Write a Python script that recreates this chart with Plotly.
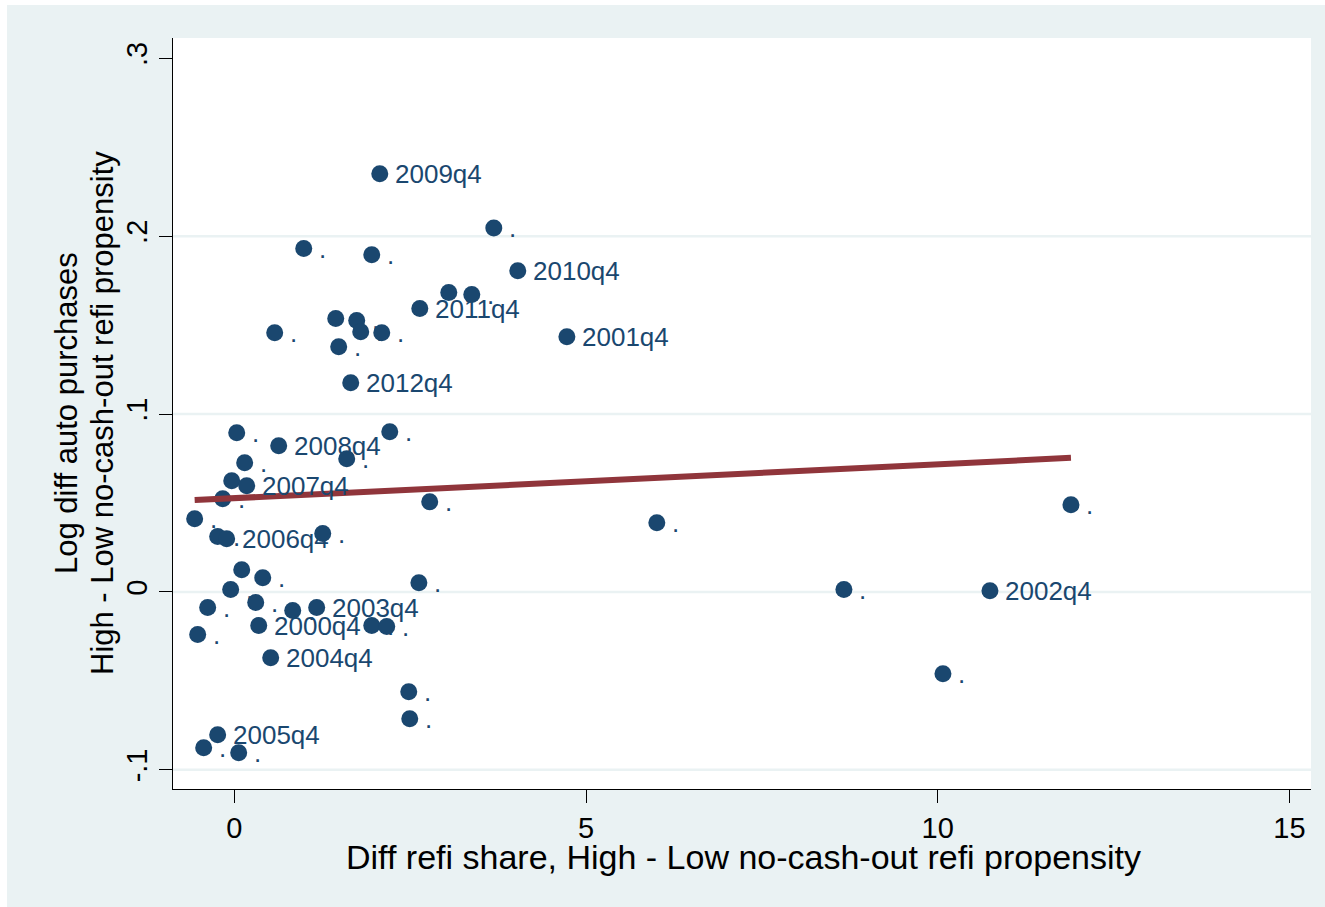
import numpy as np
import plotly.graph_objects as go

# Diff refi share (x) vs log diff auto purchases (y), High - Low propensity groups
refi_diff = [
    2.067, 3.688, 0.986, 1.953, 4.029, 3.048, 3.375, 2.636, 1.441, 1.739,
    0.573, 1.796, 2.095, 4.727, 1.483, 1.654, 0.033, 0.630, 2.209, 1.597,
    0.146, -0.038, 0.175, -0.166, 2.777, -0.565, 6.006, 11.894, -0.238, -0.110,
    1.256, 0.104, 0.403, 2.623, -0.053, 8.666, 10.742, -0.380, 0.303, 0.829,
    1.170, 0.346, 1.953, 2.166, -0.522, 0.516, 2.479, 10.074, 2.493, -0.238,
    -0.437, 0.061,
]
auto_diff = [
    0.2351, 0.2046, 0.1930, 0.1896, 0.1806, 0.1683, 0.1672, 0.1593, 0.1537, 0.1526,
    0.1457, 0.1463, 0.1457, 0.1435, 0.1378, 0.1176, 0.0895, 0.0822, 0.0901, 0.0749,
    0.0726, 0.0625, 0.0597, 0.0524, 0.0507, 0.0411, 0.0389, 0.0490, 0.0311, 0.0299,
    0.0328, 0.0125, 0.0080, 0.0052, 0.0013, 0.0013, 0.0007, -0.0088, -0.0060, -0.0105,
    -0.0088, -0.0189, -0.0189, -0.0195, -0.0240, -0.0370, -0.0561, -0.0460, -0.0713, -0.0803,
    -0.0876, -0.0904,
]
quarter_labels = [
    "2009q4", ".", ".", ".", "2010q4", ".", ".", "2011q4", ".", ".",
    ".", ".", ".", "2001q4", ".", "2012q4", ".", "2008q4", ".", ".",
    ".", ".", "2007q4", ".", ".", ".", ".", ".", ".", "2006q4",
    ".", ".", ".", ".", ".", ".", "2002q4", ".", ".", ".",
    "2003q4", "2000q4", ".", ".", ".", "2004q4", ".", ".", ".", "2005q4",
    ".", ".",
]

x_ticks = [0, 5, 10, 15]
y_ticks = [-0.1, 0, 0.1, 0.2, 0.3]
y_tick_text = ["-.1", "0", ".1", ".2", ".3"]
y_grid = [-0.1, 0, 0.1, 0.2]

x_title = "Diff refi share, High - Low no-cash-out refi propensity"
y_title_1 = "Log diff auto purchases"
y_title_2 = "High - Low no-cash-out refi propensity"

NAVY = "#1a476f"
MAROON = "#90353b"
BG = "#eaf2f3"
FONT = "Liberation Sans, Arial, sans-serif"

x = np.array(refi_diff)
y = np.array(auto_diff)

# Linear fit over the observed range
slope, intercept = np.polyfit(x, y, 1)
fit_x = np.array([x.min(), x.max()])
fit_y = intercept + slope * fit_x

fig = go.Figure()
fig.add_trace(go.Scatter(
    x=x, y=y, mode="markers",
    marker=dict(color=NAVY, size=17, line=dict(width=0)),
    showlegend=False, hoverinfo="skip",
))
fig.add_trace(go.Scatter(
    x=fit_x, y=fit_y, mode="lines",
    line=dict(color=MAROON, width=6),
    showlegend=False, hoverinfo="skip",
))

annotations = []
for xi, yi, lab in zip(refi_diff, auto_diff, quarter_labels):
    annotations.append(dict(
        x=xi, y=yi, xref="x", yref="y", text=lab, showarrow=False,
        xanchor="left", yanchor="middle", xshift=14, borderpad=0,
        font=dict(family=FONT, size=26, color=NAVY),
    ))

annotations.append(dict(
    x=0.5, y=-0.0905, xref="paper", yref="paper", text=x_title, showarrow=False,
    xanchor="center", yanchor="middle", xshift=1,
    font=dict(family=FONT, size=34, color="black"),
))
annotations.append(dict(
    x=(66.5 - 173) / 1138, y=0.5, xref="paper", yref="paper", text=y_title_1,
    showarrow=False, textangle=-90, xanchor="center", yanchor="middle",
    font=dict(family=FONT, size=31, color="black"),
))
annotations.append(dict(
    x=(102.5 - 173) / 1138, y=0.5, xref="paper", yref="paper", text=y_title_2,
    showarrow=False, textangle=-90, xanchor="center", yanchor="middle",
    font=dict(family=FONT, size=31, color="black"),
))

shapes = [
    # outer chart region
    dict(type="rect", xref="paper", yref="paper", x0=(7 - 173) / 1138, x1=1.05,
         y0=-0.25, y1=(789 - 5) / 751, fillcolor=BG, line=dict(width=0), layer="below"),
    # plot region
    dict(type="rect", xref="paper", yref="paper", x0=0, x1=1, y0=0, y1=1,
         fillcolor="white", line=dict(width=0), layer="below"),
]
for g in y_grid:
    shapes.append(dict(type="line", xref="paper", yref="y", x0=0, x1=1, y0=g, y1=g,
                       line=dict(color=BG, width=2.5), layer="below"))

fig.update_layout(
    width=1325, height=907,
    margin=dict(l=173, r=14, t=38, b=118, pad=0),
    paper_bgcolor="white", plot_bgcolor="white",
    font=dict(family=FONT, color="black"),
    shapes=shapes, annotations=annotations,
    xaxis=dict(
        range=[-0.873, 15.307], tickvals=x_ticks, ticks="outside", ticklen=13,
        tickwidth=1.3, tickcolor="black", showline=True, linecolor="black",
        linewidth=1.3, showgrid=False, zeroline=False,
        tickfont=dict(family=FONT, size=29, color="black"),
    ),
    yaxis=dict(
        range=[-0.1108, 0.3114], tickvals=y_ticks, ticktext=y_tick_text,
        tickangle=-90, ticks="outside", ticklen=13, tickwidth=1.3, tickcolor="black",
        showline=True, linecolor="black", linewidth=1.3, showgrid=False,
        zeroline=False, tickfont=dict(family=FONT, size=29, color="black"),
    ),
)

fig.write_html("out.html")
